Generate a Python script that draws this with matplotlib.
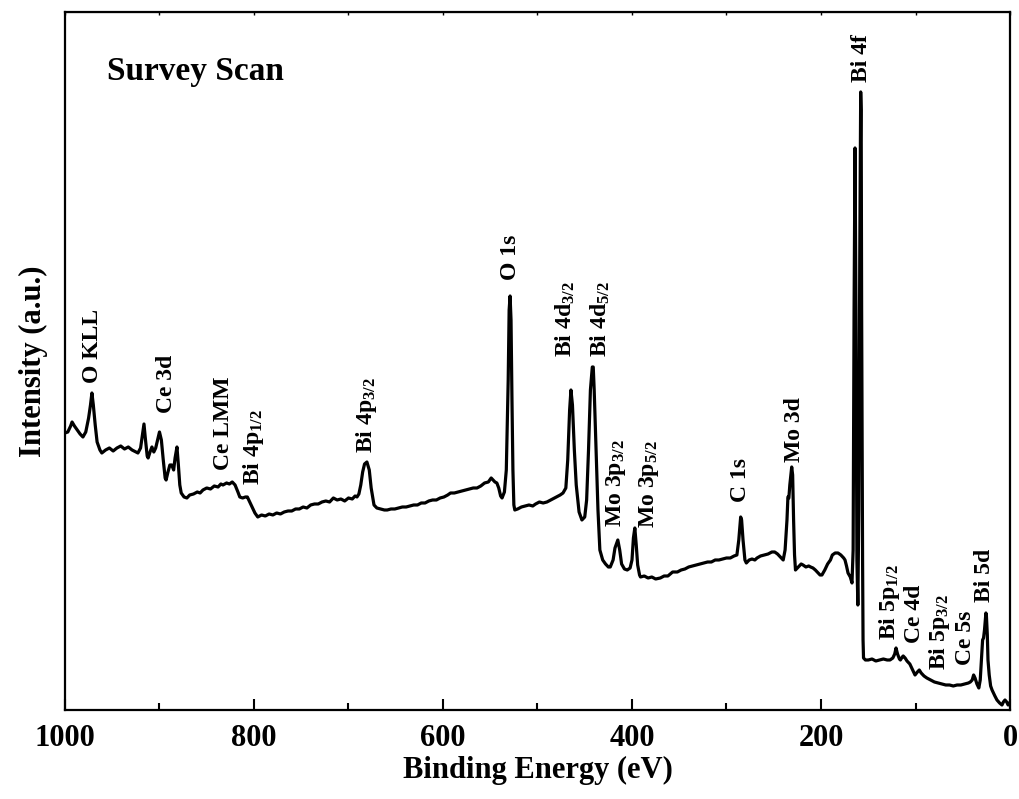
import matplotlib
matplotlib.use('Agg')
import matplotlib.pyplot as plt
from matplotlib.ticker import MultipleLocator

plt.rcParams['font.family'] = ['Liberation Serif', 'DejaVu Serif']
plt.rcParams['font.weight'] = 'bold'
plt.rcParams['mathtext.fontset'] = 'custom'
plt.rcParams['mathtext.rm'] = 'Liberation Serif:bold'
plt.rcParams['mathtext.default'] = 'rm'

# binding energy (eV) and intensity (a.u.)
binding_energy = [
    1000, 997, 994, 992.5, 990, 987, 984, 981, 978, 975, 973, 971.5, 970, 968, 966, 963, 961,
    957, 953, 949, 945, 941, 937, 933, 929, 925, 922.8, 920, 918, 916.4, 915, 913, 912, 910,
    908, 906, 904, 902, 900, 898, 896, 894, 893, 891, 889, 887, 885, 883.5, 881.5, 880, 878.5,
    877, 874, 871, 868, 864, 860, 857, 854, 850, 846, 842, 838, 835, 832.8, 829, 826, 823, 820,
    817, 815, 812, 809, 807, 805, 802, 799, 796, 792, 788, 784, 780, 776, 772, 768, 764, 760,
    756, 752, 748, 744, 740, 736, 732, 728, 724, 720, 716, 712, 708, 704, 700, 696, 693, 691,
    689, 687, 685, 683, 680.5, 678, 676, 673, 670, 666, 662, 659, 655, 651, 647, 643, 639, 635,
    631, 627, 623, 619, 615, 611, 607, 603, 599, 595, 592, 588, 584, 580, 576, 572, 568, 564,
    560, 556, 552, 549, 547, 545, 543, 541, 539, 537.5, 535, 533, 531, 530, 529, 528, 527, 526,
    525, 524, 521, 517, 513, 509, 505, 502, 498, 494, 490, 486, 482, 478, 476, 473, 470, 468,
    466, 464.6, 463, 461, 459, 456, 453, 450, 448, 446, 444, 442, 441, 440, 438, 436, 434, 431,
    428, 425, 423, 420, 418, 415, 413, 411, 408, 405, 402, 400, 398.5, 397, 395.5, 394, 392,
    391, 387, 383, 379, 375, 370, 366, 362, 357, 352, 348, 344, 340, 336, 332, 328, 324, 320,
    316, 312, 308, 304, 300, 296, 292, 289, 287, 285, 284, 282.5, 280.5, 279, 276, 273, 270,
    267.7, 264, 260, 256, 252, 249, 246, 243, 240, 238, 236, 235, 234, 233, 231, 230, 229, 228,
    227, 225, 223, 221, 219, 216, 213, 211, 208.5, 206, 203, 201, 199, 196, 193, 190, 188, 185,
    182, 179, 176, 174.6, 173, 171.4, 169, 167.2, 166, 165, 164, 163, 162, 161, 160, 159, 158,
    157.5, 157, 156, 155.5, 155, 153, 150, 146, 142, 138, 134, 130, 127, 124, 122, 120.6, 119,
    117, 116, 114, 113, 111, 109, 106, 103, 100.5, 98, 96, 94, 91, 88, 84, 80, 76, 72, 68, 64,
    60, 56, 52, 48, 44, 42, 40, 38.5, 37, 35, 33, 31.5, 30, 29, 28, 27, 26, 25.5, 25, 24, 23.3,
    22, 20.5, 19, 16, 13.8, 11, 8.5, 7, 5.3, 3.5, 2, 0.5,
]
intensity = [
    277, 278, 284, 288, 284, 280, 276, 273, 278, 292, 305, 317, 305, 285, 268, 260, 257,
    260, 262, 259, 262, 264, 261, 263, 260, 258, 257, 262, 275, 286, 272, 254, 252, 258,
    263, 258, 262, 270, 278, 270, 250, 232, 230, 238, 245, 245, 240, 252, 263, 245, 225,
    217, 213, 212, 215, 216, 218, 217, 220, 222, 221, 224, 223, 226, 225, 227, 226, 228, 225,
    218, 213, 212, 213, 213, 209, 203, 197, 193, 195, 194, 196, 195, 197, 196, 198, 199, 199,
    201, 201, 203, 202, 205, 206, 206, 208, 209, 208, 212, 210, 211, 209, 212, 211, 214, 213,
    216, 225, 238, 246, 248, 240, 222, 205, 202, 201, 200, 200, 201, 201, 202, 203, 203, 204,
    205, 205, 207, 207, 209, 210, 210, 212, 213, 215, 217, 217, 218, 219, 220, 221, 222, 222,
    224, 227, 228, 232, 230, 228, 227, 222, 214, 212, 218, 240, 330, 400, 414, 390, 310, 240,
    205, 200, 201, 203, 204, 205, 204, 206, 208, 207, 208, 210, 212, 214, 215, 217, 222, 250,
    300, 320, 305, 260, 225, 198, 190, 193, 210, 260, 320, 343, 343, 320, 260, 200, 160, 150,
    146, 143, 143, 150, 162, 170, 160, 146, 141, 140, 142, 150, 172, 182, 165, 145, 135,
    133, 134, 132, 133, 131, 132, 134, 134, 138, 138, 140, 141, 143, 144, 145, 146, 147, 148,
    148, 150, 150, 151, 152, 152, 154, 155, 170, 193, 190, 170, 150, 147, 150, 151, 150,
    152, 154, 155, 156, 158, 158, 156, 153, 150, 160, 190, 213, 212, 225, 243, 235, 190, 155,
    140, 142, 144, 146, 145, 143, 144, 143, 142, 140, 137, 135, 135, 140, 146, 150, 155, 157,
    157, 155, 152, 150, 144, 137, 133, 127, 160, 400, 562, 400, 150, 105, 200, 450, 618,
    600, 400, 150, 70, 52, 50, 50, 51, 49, 50, 51, 50, 50, 52, 56, 62, 56,
    51, 50, 53, 54, 52, 49, 46, 40, 35, 38, 40, 37, 34, 32, 30, 28, 27, 26, 25, 25,
    24, 25, 25, 26, 27, 28, 30, 35, 32, 26, 22, 30, 55, 70, 72, 80, 92, 97, 95, 75, 50,
    35, 24, 20, 14, 10, 7, 5, 8, 10, 8, 5, 7,
]

# peak labels: text, binding energy of label centre, intensity at label bottom
peak_labels = ['O KLL', 'Ce 3d', 'Ce LMM', r'Bi 4p$_{1/2}$', r'Bi 4p$_{3/2}$', 'O 1s',
               r'Bi 4d$_{3/2}$', r'Bi 4d$_{5/2}$', r'Mo 3p$_{3/2}$', r'Mo 3p$_{5/2}$',
               'C 1s', 'Mo 3d', 'Bi 4f', r'Bi 5p$_{1/2}$', 'Ce 4d', r'Bi 5p$_{3/2}$',
               'Ce 5s', 'Bi 5d']
label_be = [971, 893, 832, 800, 681, 529, 470, 434, 417, 382, 285, 228, 157, 128, 101,
            75, 47, 27]
label_int = [327, 297, 240, 225, 257, 430, 353, 353, 183, 182, 208, 248, 628, 70, 67,
             40, 45, 108]

fig = plt.figure(figsize=(10.2, 7.99), dpi=100)
ax = fig.add_axes([0.0637, 0.1114, 0.9265, 0.8736])

ax.plot(binding_energy, intensity, color='black', lw=2.3, solid_joinstyle='round')

for txt, be, y in zip(peak_labels, label_be, label_int):
    ax.text(be, y, txt, rotation=90, ha='center', va='bottom', fontsize=17, fontweight='bold')

ax.text(0.044, 0.937, 'Survey Scan', transform=ax.transAxes, fontsize=24, fontweight='bold',
        ha='left', va='top')

ax.set_xlim(1000, 0)
ax.set_ylim(0, 698)
ax.xaxis.set_major_locator(MultipleLocator(200))
ax.xaxis.set_minor_locator(MultipleLocator(100))
ax.tick_params(axis='x', which='major', direction='in', length=8, width=1.5, labelsize=22,
               pad=10, top=False)
ax.tick_params(axis='x', which='minor', direction='in', length=5, width=1.5, top=False)
ax.set_yticks([])
for s in ax.spines.values():
    s.set_linewidth(1.6)

# tiny tick marks along the top frame
top = ax.secondary_xaxis('top')
top.xaxis.set_major_locator(MultipleLocator(100))
top.tick_params(direction='in', length=2, width=1, labeltop=False)

ax.set_xlabel('Binding Energy (eV)', fontsize=22, fontweight='bold', labelpad=2)
ax.set_ylabel('Intensity (a.u.)', fontsize=22, fontweight='bold', labelpad=12)

fig.savefig('out.png', dpi=100)
